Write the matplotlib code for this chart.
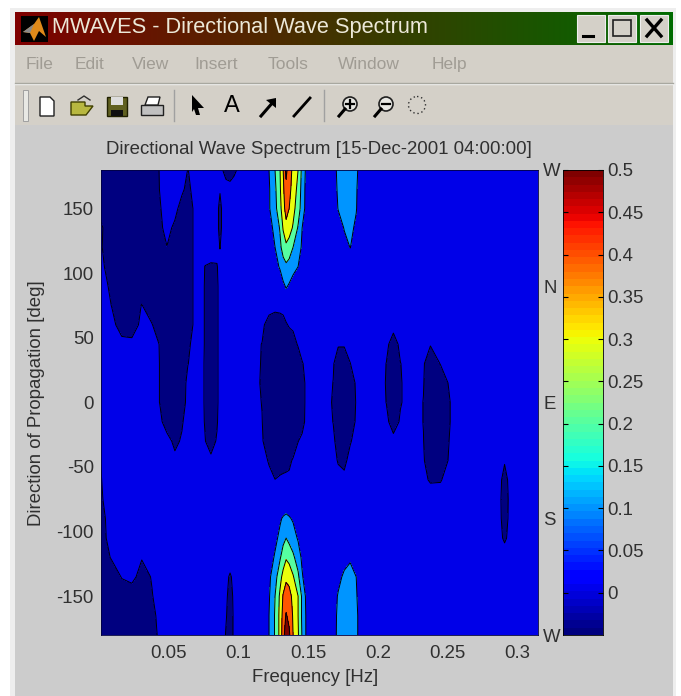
import numpy as np
import matplotlib
matplotlib.use('Agg')
import matplotlib.pyplot as plt
from matplotlib.patches import Rectangle, Polygon, Circle

plt.rcParams['font.family'] = ['Liberation Sans', 'DejaVu Sans']
plt.rcParams['axes.unicode_minus'] = False

W, H = 681, 696
GRAY = '#cccccc'
MENU = '#d4d0c8'
TXT = '#303030'
FS = 13.4

# frequency bins, finer where the contours bend
freq_hz = [.0017, .0096, .0168, .024, .0311, .0383, .044, .0491, .0548, .0598, .0641, .0713, .0763, .0806,
           .0849, .0871, .0892, .0914, .0943, .0971, .105,
           .1172, .1222, .1265, .1301, .1323, .1344, .1366, .1394, .143, .1459, .1488, .1538,
           .1624, .1681, .1717, .176, .1803, .1846, .1889, .2004, .2062, .2112, .2162, .2248, .2327, .2377,
           .2449, .2521, .2664, .2865, .2908, .2951, .3145]
direction_deg = [180, 165, 150, 135, 120, 105, 90, 75, 60, 45, 30, 15, 0,
                 -15, -30, -45, -60, -75, -90, -105, -120, -135, -150, -165, -180]

# spectrum, in hundredths, one row per direction
spectrum = [
    [-3, -3, -3, -3, -3, -2, .2, 2, 2, 2, -.1, 2, 2, 2, 2, 2, -.1, -2, -3, -1, 3,
     3, 10, 20, 30, 40, 53, 44, 38, 30, 17, 8, 3,
     2, 5, 13, 14, 14, 12, 4, 2, 2, 2, 2, 2, 2, 2, 2, 2, 2, 2, 2, 2, 2],
    [-3, -3, -3, -3, -3, -2, .1, 2, 2, 1, -1.5, 4, 2, 2, 1.5, .3, 2, 2, 2, 2, 2,
     3, 9, 18, 29, 38, 47, 43, 36, 27, 16, 7, 3,
     2, 4, 12, 13, 14, 11, 3, 2, 2, 2, 2, 2, 2, 2, 2, 2, 2, 2, 2, 2, 2],
    [-1, -3, -3, -3, -3, -3, -.3, 1.5, 1.5, -2, -3, 3, 2, 2, 1, -1, 1, 2, 2, 2, 2,
     2, 9, 17, 27, 36, 44, 40, 33, 25, 15, 7, 2,
     2, 3, 10.5, 13, 13, 10.5, 3, 2, 2, 2, 2, 2, 2, 2, 2, 2, 2, 2, 2, 2, 2],
    [.7, -3, -3, -3, -3, -3, -1, 1.5, -1, -3, -3, 3, 2, 2, 1, -1, 1, 2, 2, 2, 2,
     2, 6, 13, 21, 31, 37, 34, 29, 19, 10, 5, 2,
     2, 2, 5, 10.5, 12, 8.5, 2, 2, 2, 2, 2, 2, 2, 2, 2, 2, 2, 2, 2, 2, 2],
    [.5, -3, -3, -3, -3, -3, -3, -.1, -3, -3, -3, 3, 2, 2, 1, -.1, 1.5, 2, 2, 2, 2,
     2, 4, 10, 18, 24, 28, 26, 20, 13, 9, 4, 2,
     2, 2, 3, 7, 10.2, 6, 2, 2, 2, 2, 2, 2, 2, 2, 2, 2, 2, 2, 2, 2, 2],
    [1, -2, -3, -3, -3, -3, -3, -3, -3, -3, -3, 3, -.1, -.5, -.2, 1, 2, 2, 2, 2, 2,
     2, 3, 7, 11, 16, 18, 16, 13, 10, 5, 3, 2,
     2, 2, 2, 4, 5, 3, 2, 2, 2, 2, 2, 2, 2, 2, 2, 2, 2, 2, 2, 2, 2],
    [2, -1, -3, -3, -3, -3, -3, -3, -3, -3, -3, 3, -.3, -3, -1, 2, 2, 2, 2, 2, 2,
     2, 2, 3, 5, 8, 11, 9, 6, 4, 3, 2, 2,
     2, 2, 2, 2, 2, 2, 2, 2, 2, 2, 2, 2, 2, 2, 2, 2, 2, 2, 2, 2, 2],
    [2, -.1, -3, -3, .2, -3, -3, -3, -3, -3, -3, 3, -.3, -3, -1, 2, 2, 2, 2, 2, 2,
     2, 2, 1.6, 2, 2, 3, 2, 2, 2, 2, 2, 2,
     2, 2, 2, 2, 2, 2, 2, 2, 2, 2, 2, 2, 2, 2, 2, 2, 2, 2, 2, 2, 2],
    [2, 1, -1.5, -2, 1, .3, -3, -3, -3, -3, -3, 3, -.3, -3, -1, 2, 2, 2, 2, 2, 2,
     1, -2, -3, -3, -2, -.5, .5, 1, 2, 2, 2, 2,
     2, 2, 2, 2, 2, 2, 2, 2, 2, 1.5, 2, 2, 2, 2, 2, 2, 2, 2, 2, 2, 2],
    [2, 2, 1, 1, 2, 1, -.1, -3, -3, -3, -1, 3, -.3, -3, -1, 2, 2, 2, 2, 2, 2,
     -.1, -3, -3, -3, -3, -3, -3, -2, .5, 2, 2, 2,
     2, 2, .5, .5, 2, 2, 2, 2, 1, -2, 1, 2, 1, .3, 2, 2, 2, 2, 2, 2, 2],
    [2, 2, 2, 2, 2, 2, -.1, -3, -3, -3, -.1, 2, -.3, -3, -1, 2, 2, 2, 2, 2, 2,
     -.2, -3, -3, -3, -3, -3, -3, -3, -3, -.3, 1, 2,
     2, .5, -3, -3, -.1, 2, 2, 2, -.1, -3, -.1, 2, .5, -3, .2, 2, 2, 2, 2, 2, 2],
    [2, 2, 2, 2, 2, 2, -.1, -3, -3, -2, 1, 2, -.3, -3, -1, 2, 2, 2, 2, 2, 2,
     -.3, -3, -3, -3, -3, -3, -3, -3, -3, -2, 1, 2,
     2, -.1, -3, -3, -2, .5, 2, 2, -.3, -3, -.3, 2, .2, -3, -3, 1, 2, 2, 2, 2, 2],
    [2, 2, 2, 2, 2, 2, -.1, -3, -3, -1.5, 1, 2, -.3, -3, -1, 2, 2, 2, 2, 2, 2,
     -.1, -3, -3, -3, -3, -3, -3, -3, -3, -2, 1, 2,
     2, -.5, -3, -3, -2, .2, 2, 2, -.1, -3, -.3, 2, -.1, -3, -3, .1, 2, 2, 2, 2, 2],
    [2, 2, 2, 2, 2, 2, 1, -2, -3, -.5, 2, 2, -.2, -2.5, -.5, 2, 2, 2, 2, 2, 2,
     .1, -3, -3, -3, -3, -3, -3, -3, -3, -1.5, 1, 2,
     2, -.1, -3, -3, -2, .5, 2, 2, 1, -2, .5, 2, -.1, -3, -3, .1, 2, 2, 2, 2, 2],
    [2, 2, 2, 2, 2, 2, 2, 1.5, -1, .5, 2, 2, .2, -2, .5, 2, 2, 2, 2, 2, 2,
     .5, -3, -3, -3, -3, -3, -3, -3, -.1, 1, 2, 2,
     2, 1, -2, -3, -.5, 2, 2, 2, 2, 1.3, 2, 2, .1, -3, -3, .5, 2, 2, 2, 2, 2],
    [.05, 2, 2, 2, 2, 2, 2, 2, 1, 2, 2, 2, 2, 1, 2, 2, 2, 2, 2, 2, 2,
     2, -.5, -3, -3, -2, -1.5, -1, .5, 2, 2, 2, 2,
     2, 2, -.5, -1.5, 2, 2, 2, 2, 2, 2, 2, 2, .5, -3, -3, 1, 2, 2, .5, 2, 2],
    [-.2, 2, 2, 2, 2, 2, 2, 2, 2, 2, 2, 2, 2, 2, 2, 2, 2, 2, 2, 2, 2,
     2, 1.5, .1, 1, 1, 1, 1, 2, 2, 2, 2, 2,
     2, 2, 2, 1.5, 2, 2, 2, 2, 2, 2, 2, 2, 1, -.5, -.3, 2, 2, 2, -2, 2, 2],
    [-.5, 2, 2, 2, 2, 2, 2, 2, 2, 2, 2, 2, 2, 2, 2, 2, 2, 2, 2, 2, 2,
     2, 2, 2, 2.5, 3, 4, 3, 2.5, 2, 2, 2, 2,
     2, 2, 2, 2, 2, 2, 2, 2, 2, 2, 2, 2, 2, 2.5, 2, 2, 2, 2, -3, 2, 2],
    [-1.5, 2, 2, 2, 2, 2, 2, 2, 2, 2, 2, 2, 2, 2, 2, 2, 2, 2, 2, 2, 2,
     2, 3, 5, 9, 11, 12, 11, 9, 5, 3, 2, 2,
     2, 2, 2, 2, 2, 2, 2, 2, 2, 2, 2, 2, 2, 2, 2, 2, 2, 2, -2.5, 2, 2],
    [-2, 2, 2, 2, 2, 2, 2, 2, 2, 2, 2, 2, 2, 2, 2, 2, 2, 2, 2, 2, 2,
     2, 4, 8, 12, 17, 20, 17, 14, 9, 5, 3, 2,
     2, 2, 2, 3, 4, 3, 2, 2, 2, 2, 2, 2, 2, 2, 2, 2, 2, 2, -1, 2, 2],
    [-3, .5, 2, 2, .3, 2, 2, 2, 2, 2, 2, 2, 2, 2, 2, 2, 2, 2, 2, 2, 2,
     2, 6, 11, 19, 25, 29, 27, 22, 15, 8, 4, 2,
     2, 2, 3, 6, 8.5, 5, 2, 2, 2, 2, 2, 2, 2, 2, 2, 2, 2, 2, 3, 2, 2],
    [-3, -3, .3, 1.5, -2, .3, 2, 2, 2, 2, 2, 2, 2, 2, 2, 2, 2, 1, -.5, 1, 2,
     2, 8, 16, 27, 33, 38, 36, 31, 22, 11, 5, 2,
     2, 3, 7, 12, 14, 10, 3, 2, 2, 2, 2, 2, 2, 2, 2, 2, 2, 2, 2, 2, 2],
    [-3, -3, -3, -3, -3, -.3, 2, 2, 2, 2, 2, 2, 2, 2, 2, 2, 2, 1, -2, 1, 2,
     3, 9, 20, 32, 41, 45, 44, 37, 30, 18, 8, 3,
     2, 5, 11, 14, 14, 11, 3, 2, 2, 2, 2, 2, 2, 2, 2, 2, 2, 2, 2, 2, 2],
    [-3, -3, -3, -3, -3, -1, 1, 2, 2, 2, 2, 2, 2, 2, 2, 2, 2, .5, -3, 1, 2,
     3, 10, 21, 33, 44, 51, 47, 39, 30, 18, 9, 3,
     2, 5, 12.5, 15, 15, 12, 4, 2, 2, 2, 2, 2, 2, 2, 2, 2, 2, 2, 2, 2, 2],
    [-3, -3, -3, -3, -3, -2, 1, 2, 2, 2, 2, 2, 2, 2, 2, 2, 2, -.5, -3, 1, 2,
     3, 10, 21, 33, 46, 56, 52, 40, 31, 19, 9, 3,
     2, 5, 13, 15, 15, 12, 4, 2, 2, 2, 2, 2, 2, 2, 2, 2, 2, 2, 2, 2, 2],
]

levels = [-.05, 0, .1, .2, .3, .4, .5, .6]
freq_ticks = [.05, .1, .15, .2, .25, .3]
freq_labels = ['0.05', '0.1', '0.15', '0.2', '0.25', '0.3']
dir_ticks = [-150, -100, -50, 0, 50, 100, 150]
compass_ticks = [180, 90, 0, -90, -180]
compass_labels = ['W', 'N', 'E', 'S', 'W']
cbar_ticks = [0, .05, .1, .15, .2, .25, .3, .35, .4, .45, .5]
cbar_labels = ['0', '0.05', '0.1', '0.15', '0.2', '0.25', '0.3', '0.35', '0.4', '0.45', '0.5']
menu_names = ['File', 'Edit', 'View', 'Insert', 'Tools', 'Window', 'Help']
menu_x = [26, 75, 132, 194, 268, 338, 432]


def axes_px(x0, y0, x1, y1):
    # axes rectangle given in picture pixels, y going down
    return [x0 / W, 1 - y1 / H, (x1 - x0) / W, (y1 - y0) / H]


fig = plt.figure(figsize=(W / 100, H / 100), dpi=100, facecolor='white')

# window frame and toolbar, drawn in pixel coordinates
bg = fig.add_axes([0, 0, 1, 1], zorder=0)
bg.set_xlim(0, W)
bg.set_ylim(H, 0)
bg.axis('off')
bg.add_patch(Rectangle((10, 8), 666, H - 8, fc='#eeeeee', ec='none'))
bg.add_patch(Rectangle((15, 12), 658, H - 12, fc=GRAY, ec='none'))
bg.add_patch(Rectangle((15, 45), 658, 80, fc=MENU, ec='none'))
bg.plot([15, 673], [84, 84], color='#f4f4f4', lw=1)
bg.plot([15, 673], [82.5, 82.5], color='#a8a8a0', lw=1)
grad = np.linspace(0, 1, 256)
bar = np.stack([.5 * (1 - grad), .42 * grad, 0 * grad], axis=1)[None, :, :]
bg.imshow(bar, extent=(15, 673, 45, 12), aspect='auto', zorder=1)
bg.set_xlim(0, W)
bg.set_ylim(H, 0)
bg.add_patch(Rectangle((21, 16), 27, 26, fc='black', ec='none', zorder=2))
bg.add_patch(Polygon([[23, 32], [34, 24], [39, 17], [46, 37], [39, 31], [34, 41], [30, 33]], fc='#e08a1a', ec='none', zorder=3))
bg.add_patch(Polygon([[23, 32], [34, 24], [30, 33]], fc='#8a8a8a', ec='none', zorder=3))
bg.text(52, 28, 'MWAVES - Directional Wave Spectrum', color='#ece8d8', fontsize=15.7, va='center', ha='left', zorder=3)
for x0 in [577, 608, 640]:
    bg.add_patch(Rectangle((x0, 15), 28, 27, fc=MENU, ec='#eeeeee', lw=.8, zorder=2))
bg.plot([583, 593], [36, 36], color='black', lw=2.2, zorder=3)
bg.add_patch(Rectangle((613, 20), 18, 16, fc='none', ec='#202020', lw=1.2, zorder=3))
bg.plot([647, 661], [20, 36], color='black', lw=2.4, zorder=3)
bg.plot([647, 661], [36, 20], color='black', lw=2.4, zorder=3)
for name, x in zip(menu_names, menu_x):
    bg.text(x, 69, name, color='#a09c94', fontsize=12.5, va='baseline', ha='left')
# toolbar icons
bg.add_patch(Rectangle((23, 90), 5, 31, fc='#e8e8e4', ec='#a0a0a0', lw=.7))
for x in [174, 324]:
    bg.plot([x, x], [90, 121], color='#a0a0a0', lw=1)
bg.add_patch(Polygon([[40, 97], [50, 97], [54, 101], [54, 116], [40, 116]], fc='white', ec='#202020', lw=1))
bg.add_patch(Polygon([[71, 102], [85, 102], [85, 106], [93, 106], [86, 115], [71, 115]], fc='#b8b840', ec='#404000', lw=1))
bg.plot([78, 84, 90], [100, 96, 100], color='#303030', lw=1)
bg.add_patch(Rectangle((107, 97), 20, 19, fc='#606020', ec='#202000', lw=1))
bg.add_patch(Rectangle((111, 97), 12, 8, fc='#dddddd', ec='none'))
bg.add_patch(Rectangle((111, 110), 12, 6, fc='#101010', ec='none'))
bg.add_patch(Rectangle((141, 105), 22, 10, fc='#c0c0c0', ec='#202020', lw=1))
bg.add_patch(Polygon([[145, 105], [148, 97], [160, 97], [158, 105]], fc='white', ec='#202020', lw=1))
bg.add_patch(Polygon([[192, 95], [204, 108], [198, 108], [200, 115], [196, 115], [194, 109], [192, 112]], fc='black', ec='none'))
bg.text(232, 106, 'A', fontsize=17, ha='center', va='center', color='black')
bg.plot([261, 274], [116, 101], color='black', lw=2.2)
bg.add_patch(Polygon([[276, 98], [276, 108], [266, 100]], fc='black', ec='none'))
bg.plot([294, 310], [116, 98], color='black', lw=2)
for cx, sign in [(350, '+'), (386, '-')]:
    bg.add_patch(Circle((cx, 104), 7, fc='#e8e8e4', ec='#202020', lw=1.2))
    bg.plot([cx - 5, cx - 11], [109, 116], color='black', lw=2.2)
    bg.plot([cx - 4, cx + 4], [104, 104], color='black', lw=1.6)
    if sign == '+':
        bg.plot([cx, cx], [100, 108], color='black', lw=1.6)
bg.add_patch(Circle((417, 105), 8.5, fc='none', ec='#303030', lw=1, ls=(0, (1, 2))))

# main contour plot
ax = fig.add_axes(axes_px(100.7, 169.7, 537.7, 635), zorder=1)
norm = plt.Normalize(-.05, .5)
band_colors = [plt.cm.jet(norm(v)) for v in levels[:-1]]
Z = np.array(spectrum) / 100.0
ax.contourf(freq_hz, direction_deg, Z, levels=levels, colors=band_colors)
ax.contour(freq_hz, direction_deg, Z, levels=levels[1:-1], colors='black', linewidths=.7)
ax.set_xlim(freq_hz[0], freq_hz[-1])
ax.set_ylim(-180, 180)
ax.set_xticks(freq_ticks)
ax.set_xticklabels(freq_labels)
ax.set_yticks(dir_ticks)
ax.tick_params(direction='in', length=0, labelsize=FS, labelcolor=TXT)
ax.tick_params(axis='x', pad=7)
ax.tick_params(axis='y', pad=5)
ax.set_xlabel('Frequency [Hz]', fontsize=FS, color=TXT)
ax.xaxis.set_label_coords(.49, -.073)
ax.set_ylabel('Direction of Propagation [deg]', fontsize=FS, color=TXT)
ax.yaxis.set_label_coords(-.127, .4986)
ax.set_title('Directional Wave Spectrum [15-Dec-2001 04:00:00]', fontsize=FS, color=TXT, pad=11)
for side in ax.spines:
    ax.spines[side].set_linewidth(.6)
    ax.spines[side].set_color('#000040')

compass = ax.twinx()
compass.set_ylim(-180, 180)
compass.set_yticks(compass_ticks)
compass.set_yticklabels(compass_labels)
compass.tick_params(length=0, labelsize=FS, labelcolor=TXT, pad=4)
for side in compass.spines:
    compass.spines[side].set_visible(False)

# colour bar
cax = fig.add_axes(axes_px(562.7, 170, 602.7, 635), zorder=1)
ramp = np.linspace(-.05, .5, 64)[:, None]
cax.imshow(ramp, cmap='jet', norm=norm, origin='lower', aspect='auto', extent=(0, 1, -.05, .5), interpolation='nearest')
cax.set_xticks([])
cax.yaxis.tick_right()
cax.set_yticks(cbar_ticks)
cax.set_yticklabels(cbar_labels)
cax.tick_params(axis='y', direction='in', length=3.5, width=.8, labelsize=FS, labelcolor=TXT, pad=3, left=True, right=True)
for side in cax.spines:
    cax.spines[side].set_linewidth(.6)

fig.savefig('out.png', dpi=100)
